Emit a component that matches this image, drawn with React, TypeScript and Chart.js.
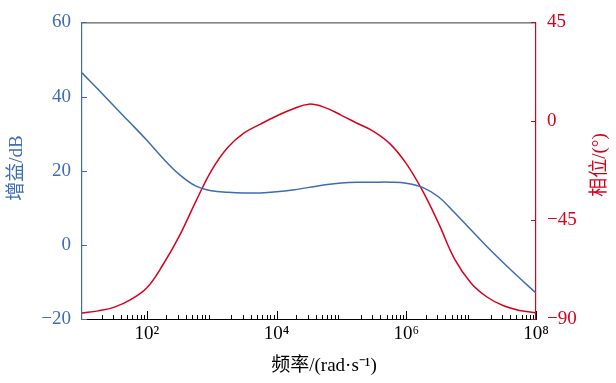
import { useEffect, useRef } from 'react';
import { Chart, registerables } from 'chart.js';

Chart.register(...registerables);

// Frequency sample points as decade exponents (rad/s = 10^e)
const freqExponents = [
  1, 1.25, 1.5, 1.75, 2, 2.25, 2.5, 2.75, 3, 3.25, 3.5, 3.75, 4, 4.25, 4.5,
  4.75, 5, 5.25, 5.5, 5.75, 6, 6.25, 6.5, 6.75, 7, 7.25, 7.5, 7.75, 8,
];
// Gain in dB
const gainDb = [
  46.4, 41.9, 37.3, 32.8, 28.2, 23.3, 19.0, 15.9, 14.6, 14.2, 14.0, 14.0, 14.3,
  14.8, 15.5, 16.2, 16.7, 16.9, 16.9, 16.9, 16.6, 15.5, 12.9, 8.6, 4.0, -0.6,
  -4.9, -9.0, -13.0,
];
// Phase in degrees
const phaseDeg = [
  -87.3, -86.3, -84.6, -81.2, -75.8, -65.2, -52.3, -36.8, -22.2, -11.8, -5.3,
  -1.3, 2.4, 5.6, 7.8, 6.2, 2.7, -1.0, -4.7, -10.3, -19.3, -31.6, -46.6, -63.0,
  -73.7, -80.1, -84.0, -86.1, -87.2,
];

const gainTicks = [-20, 0, 20, 40, 60];
const phaseTicks = [-90, -45, 0, 45];
const freqLabelExponents = [2, 4, 6, 8];

const xTitle = '频率/(rad·s⁻¹)';
const gainTitle = '增益/dB';
const phaseTitle = '相位/(°)';

const BLUE = '#3d6cb3';
const RED = '#d9001b';
const FONT_FAMILY = "'Liberation Serif', 'Times New Roman', 'Noto Sans CJK SC', serif";

const SUP: Record<string, string> = {
  '0': '⁰', '1': '¹', '2': '²', '3': '³', '4': '⁴',
  '5': '⁵', '6': '⁶', '7': '⁷', '8': '⁸', '9': '⁹',
};
const sup = (n: number) => String(n).split('').map((c) => SUP[c] || c).join('');
const fmtSigned = (v: number) => (v < 0 ? '\u2212' + Math.abs(v) : String(v));

const decorPlugin = {
  id: 'decor',
  afterDraw(chart: any) {
    const ctx = chart.ctx as CanvasRenderingContext2D;
    const { left, right, top, bottom } = chart.chartArea;
    const xs = chart.scales.x;
    const ys = chart.scales.y;
    const y1 = chart.scales.y1;
    ctx.save();
    // top frame line
    ctx.strokeStyle = '#3a3a3a';
    ctx.lineWidth = 1;
    ctx.beginPath();
    ctx.moveTo(left, top + 0.5);
    ctx.lineTo(right, top + 0.5);
    ctx.stroke();

    // x tick marks (inside)
    ctx.strokeStyle = '#000';
    ctx.beginPath();
    for (let n = 1; n <= 7; n++) {
      for (let k = 2; k <= 9; k++) {
        const px = Math.round(xs.getPixelForValue(k * Math.pow(10, n))) + 0.5;
        ctx.moveTo(px, bottom);
        ctx.lineTo(px, bottom - 4);
      }
    }
    for (const e of freqLabelExponents) {
      const px = Math.round(xs.getPixelForValue(Math.pow(10, e))) + 0.5;
      ctx.moveTo(px, bottom);
      ctx.lineTo(px, bottom - 8);
    }
    ctx.stroke();

    // left y tick marks
    ctx.strokeStyle = BLUE;
    ctx.beginPath();
    for (const v of gainTicks) {
      const py = Math.round(ys.getPixelForValue(v)) + 0.5;
      ctx.moveTo(left, py);
      ctx.lineTo(left + 5, py);
    }
    ctx.stroke();

    // right y tick marks
    ctx.strokeStyle = RED;
    ctx.beginPath();
    for (const v of phaseTicks) {
      const py = Math.round(y1.getPixelForValue(v)) + 0.5;
      ctx.moveTo(right, py);
      ctx.lineTo(right - 5, py);
    }
    ctx.stroke();

    // axis titles
    ctx.font = `19px ${FONT_FAMILY}`;
    ctx.textAlign = 'center';
    ctx.textBaseline = 'middle';
    ctx.fillStyle = '#000';
    ctx.fillText(xTitle, 324, 366);

    ctx.fillStyle = BLUE;
    ctx.save();
    ctx.translate(17, 168);
    ctx.rotate(-Math.PI / 2);
    ctx.fillText(gainTitle, 0, 0);
    ctx.restore();

    ctx.fillStyle = RED;
    ctx.save();
    ctx.translate(600, 165);
    ctx.rotate(-Math.PI / 2);
    ctx.fillText(phaseTitle, 0, 0);
    ctx.restore();

    ctx.restore();
  },
};

export default function App() {
  const ref = useRef<HTMLCanvasElement | null>(null);

  useEffect(() => {
    if (!ref.current) return;
    const font = { family: FONT_FAMILY, size: 19 };
    const chart = new Chart(ref.current, {
      type: 'line',
      data: {
        datasets: [
          {
            label: gainTitle,
            data: freqExponents.map((e, i) => ({ x: Math.pow(10, e), y: gainDb[i] })),
            yAxisID: 'y',
            borderColor: BLUE,
            borderWidth: 1.5,
            pointRadius: 0,
            tension: 0.4,
            fill: false,
          },
          {
            label: phaseTitle,
            data: freqExponents.map((e, i) => ({ x: Math.pow(10, e), y: phaseDeg[i] })),
            yAxisID: 'y1',
            borderColor: RED,
            borderWidth: 1.5,
            pointRadius: 0,
            tension: 0.4,
            fill: false,
          },
        ],
      },
      options: {
        responsive: false,
        animation: false,
        layout: { padding: { top: 17, left: 0, right: 0, bottom: 0 } },
        plugins: { legend: { display: false }, tooltip: { enabled: false } },
        scales: {
          x: {
            type: 'logarithmic',
            position: 'bottom',
            min: 10,
            max: 1e8,
            grid: { display: false, drawTicks: false },
            border: { display: true, color: '#000', width: 1 },
            afterBuildTicks: (s: any) => {
              s.ticks = freqLabelExponents.map((e) => ({ value: Math.pow(10, e) }));
            },
            afterFit: (s: any) => {
              s.height = 64;
            },
            ticks: {
              autoSkip: false,
              maxRotation: 0,
              minRotation: 0,
              padding: 4,
              color: '#000',
              font,
              callback: (v: any) => '10' + sup(Math.round(Math.log10(Number(v)))),
            },
          },
          y: {
            type: 'linear',
            position: 'left',
            min: -20,
            max: 60,
            grid: { display: false, drawTicks: false },
            border: { display: true, color: BLUE, width: 1.2 },
            afterBuildTicks: (s: any) => {
              s.ticks = gainTicks.map((v) => ({ value: v }));
            },
            afterFit: (s: any) => {
              s.width = 82;
            },
            ticks: {
              padding: 11,
              color: BLUE,
              font,
              callback: (v: any) => fmtSigned(Number(v)),
            },
          },
          y1: {
            type: 'linear',
            position: 'right',
            min: -90,
            max: 45,
            grid: { display: false, drawTicks: false },
            border: { display: true, color: RED, width: 1.2 },
            afterBuildTicks: (s: any) => {
              s.ticks = phaseTicks.map((v) => ({ value: v }));
            },
            afterFit: (s: any) => {
              s.width = 80;
            },
            ticks: {
              padding: 11,
              color: RED,
              font,
              callback: (v: any) => fmtSigned(Number(v)),
            },
          },
        },
      } as any,
      plugins: [decorPlugin],
    });
    return () => chart.destroy();
  }, []);

  return (
    <div style={{ position: 'absolute', left: 0, top: 0, width: 616, height: 383 }}>
      <canvas ref={ref} width={616} height={383} style={{ display: 'block' }} />
    </div>
  );
}
